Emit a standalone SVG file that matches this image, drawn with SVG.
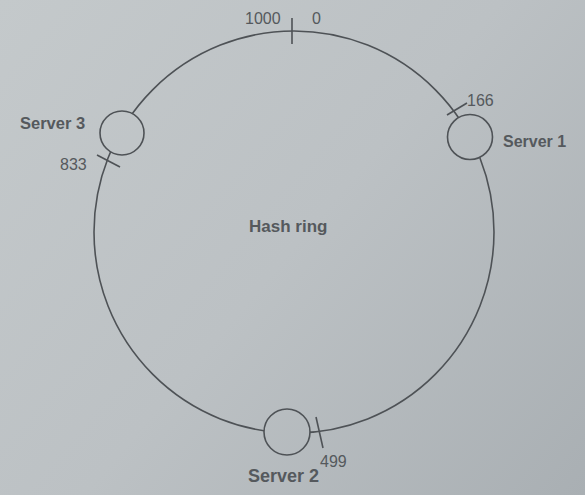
<svg xmlns="http://www.w3.org/2000/svg" width="585" height="495" viewBox="0 0 585 495">
<defs>
<linearGradient id="bg" gradientUnits="userSpaceOnUse" x1="0" y1="0" x2="585" y2="495">
<stop offset="0" stop-color="#c4c9cb"/>
<stop offset="0.5" stop-color="#bcc1c4"/>
<stop offset="1" stop-color="#a9afb3"/>
</linearGradient>
<style>
.ln{fill:none;stroke:#4e5256;stroke-width:1.6}
.srv{fill:url(#bg);stroke:#4e5256;stroke-width:1.6}
.lbl{font-family:"Liberation Sans",Arial,sans-serif;fill:#55595d}
.b{font-weight:bold}
</style>
</defs>
<rect width="585" height="495" fill="url(#bg)"/>
<g id="connectors">
<ellipse id="ring" class="ln" cx="294" cy="232" rx="200" ry="201"/>
<line class="ln" x1="292" y1="18" x2="292" y2="44"/>
<line class="ln" x1="447" y1="115" x2="467" y2="103"/>
<line class="ln" x1="97" y1="155" x2="120" y2="167"/>
<line class="ln" x1="316" y1="417" x2="323" y2="448"/>
</g>
<g id="server1"><circle class="srv" cx="470" cy="137" r="22.5"/><text class="lbl b" x="503" y="147" font-size="16">Server 1</text></g>
<g id="server2"><circle class="srv" cx="287" cy="432" r="23"/><text class="lbl b" x="248" y="482" font-size="18">Server 2</text></g>
<g id="server3"><circle class="srv" cx="122" cy="133" r="22"/><text class="lbl b" x="20" y="129" font-size="16.5">Server 3</text></g>
<g id="hashring"><text class="lbl b" x="249" y="232" font-size="17">Hash ring</text></g>
<g id="labels">
<text class="lbl" x="245" y="24" font-size="16">1000</text>
<text class="lbl" x="312" y="24" font-size="16">0</text>
<text class="lbl" x="467" y="106" font-size="16">166</text>
<text class="lbl" x="60" y="170" font-size="16">833</text>
<text class="lbl" x="320" y="467" font-size="16">499</text>
</g>
</svg>
